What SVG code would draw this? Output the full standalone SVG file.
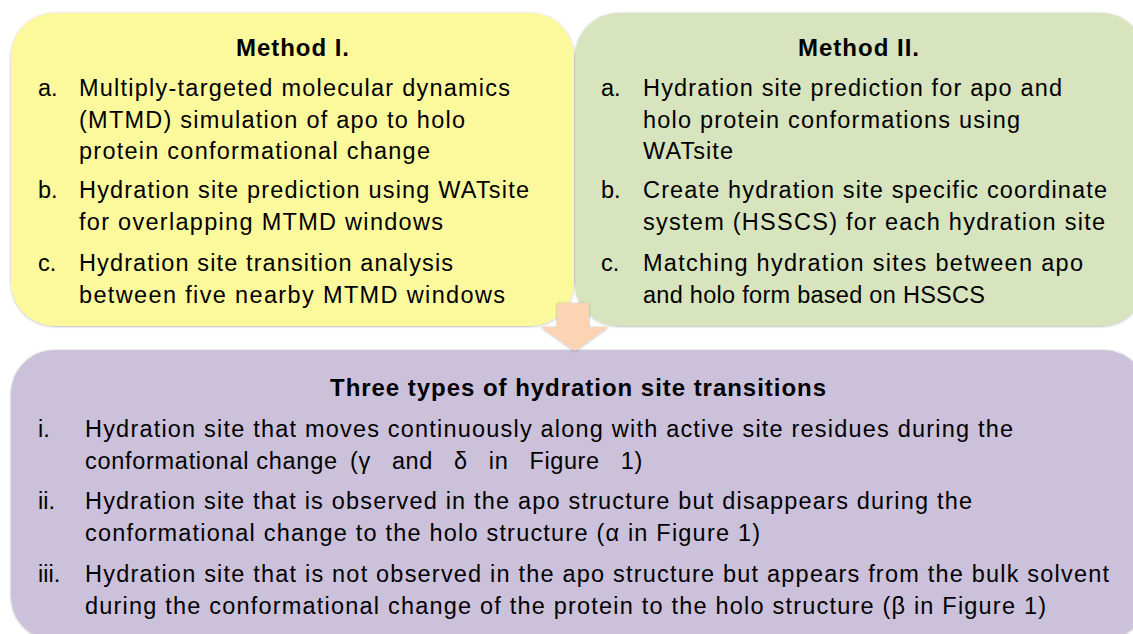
<svg xmlns="http://www.w3.org/2000/svg" width="1133" height="634" viewBox="0 0 1133 634">
<defs>
<filter id="sh" x="-5%" y="-5%" width="110%" height="110%">
<feDropShadow dx="0" dy="0.5" stdDeviation="0.8" flood-color="#000" flood-opacity="0.35"/>
</filter>
<style>
text{font-family:"Liberation Sans",Arial,sans-serif;font-size:23.5px;fill:#000}
.t{font-weight:bold;font-size:24px}
</style>
</defs>
<rect width="1133" height="634" fill="#fff"/>
<g id="method2">
<rect x="575" y="13" width="570" height="313" rx="44" ry="44" fill="#D7E4BD" filter="url(#sh)"/>
<text class="t" x="798" y="56" textLength="121" lengthAdjust="spacing">Method II.</text>
<text x="601" y="96">a.</text>
<text x="643" y="96" textLength="419" lengthAdjust="spacing">Hydration site prediction for apo and</text>
<text x="643" y="128" textLength="377" lengthAdjust="spacing">holo protein conformations using</text>
<text x="643" y="159" textLength="90" lengthAdjust="spacing">WATsite</text>
<text x="601" y="198">b.</text>
<text x="643" y="198" textLength="464" lengthAdjust="spacing">Create hydration site specific coordinate</text>
<text x="643" y="230" textLength="462" lengthAdjust="spacing">system (HSSCS) for each hydration site</text>
<text x="601" y="271">c.</text>
<text x="643" y="271" textLength="440" lengthAdjust="spacing">Matching hydration sites between apo</text>
<text x="643" y="303" textLength="342" lengthAdjust="spacing">and holo form based on HSSCS</text>
</g>
<g id="method1">
<rect x="11" y="13" width="563" height="313" rx="44" ry="44" fill="#FCF99D" filter="url(#sh)"/>
<text class="t" x="236" y="56" textLength="113" lengthAdjust="spacing">Method I.</text>
<text x="38" y="96">a.</text>
<text x="79" y="96" textLength="431" lengthAdjust="spacing">Multiply-targeted molecular dynamics</text>
<text x="79" y="128" textLength="386" lengthAdjust="spacing">(MTMD) simulation of apo to holo</text>
<text x="79" y="159" textLength="351" lengthAdjust="spacing">protein conformational change</text>
<text x="38" y="198">b.</text>
<text x="79" y="198" textLength="450" lengthAdjust="spacing">Hydration site prediction using WATsite</text>
<text x="79" y="230" textLength="364" lengthAdjust="spacing">for overlapping MTMD windows</text>
<text x="38" y="271">c.</text>
<text x="79" y="271" textLength="374" lengthAdjust="spacing">Hydration site transition analysis</text>
<text x="79" y="303" textLength="426" lengthAdjust="spacing">between five nearby MTMD windows</text>
</g>
<g id="transitions">
<rect x="11" y="350" width="1136" height="290" rx="44" ry="44" fill="#CCC1DA" filter="url(#sh)"/>
<text class="t" x="330" y="396" textLength="496" lengthAdjust="spacing">Three types of hydration site transitions</text>
<text x="38" y="437">i.</text>
<text x="85" y="437" textLength="928" lengthAdjust="spacing">Hydration site that moves continuously along with active site residues during the</text>
<text x="85" y="469" textLength="252" lengthAdjust="spacing">conformational change</text>
<text x="350" y="469" letter-spacing="0.6" word-spacing="14">(γ and δ in Figure 1)</text>
<text x="38" y="509">ii.</text>
<text x="85" y="509" textLength="887" lengthAdjust="spacing">Hydration site that is observed in the apo structure but disappears during the</text>
<text x="85" y="541" textLength="675" lengthAdjust="spacing">conformational change to the holo structure (α in Figure 1)</text>
<text x="38" y="582">iii.</text>
<text x="85" y="582" textLength="1024" lengthAdjust="spacing">Hydration site that is not observed in the apo structure but appears from the bulk solvent</text>
<text x="85" y="614" textLength="961" lengthAdjust="spacing">during the conformational change of the protein to the holo structure (β in Figure 1)</text>
</g>
<g id="connectors">
<polygon points="557,303 589,303 589,327 608,327 575,351 541,327 557,327" fill="#FCD3B3" filter="url(#sh)"/>
</g>
</svg>
